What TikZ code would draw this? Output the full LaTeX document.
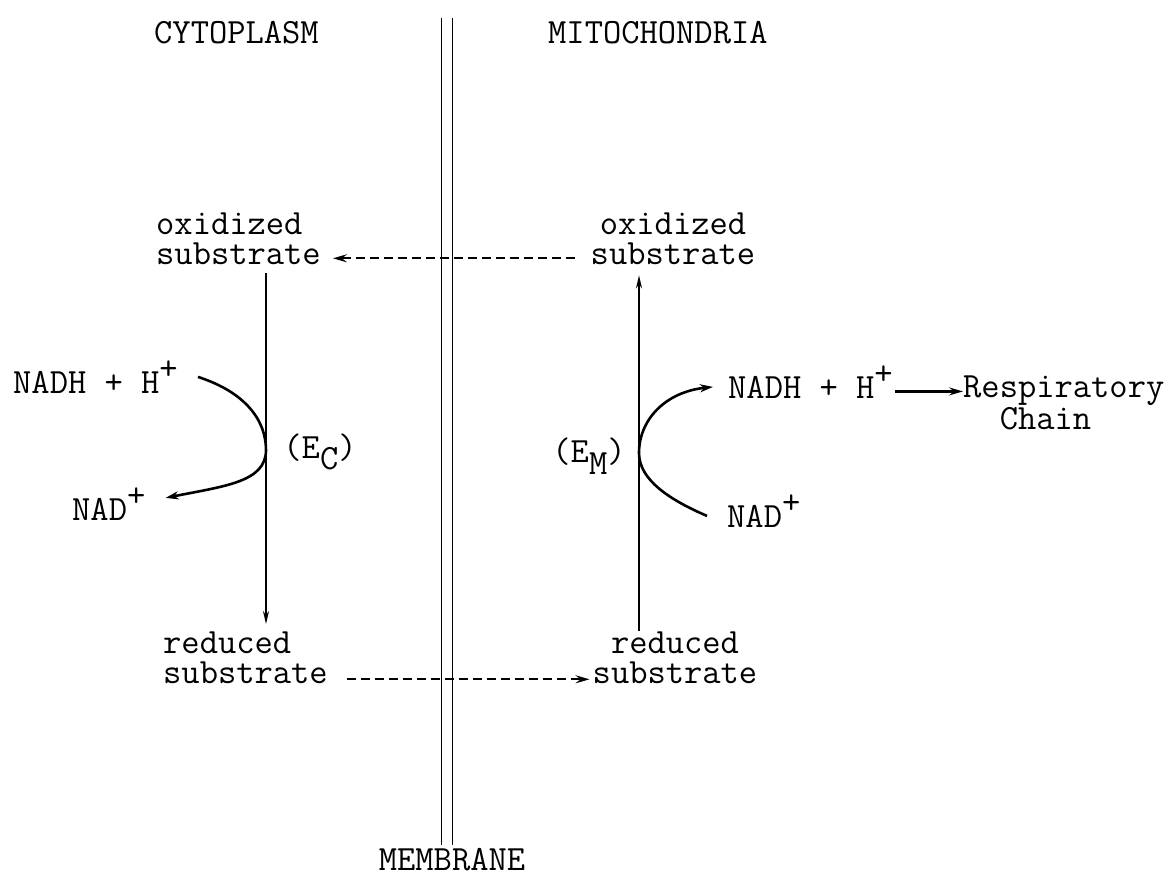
\documentclass[tikz,border=0pt]{standalone}
\usetikzlibrary{arrows.meta,calc}
\newcommand\upplus{\raisebox{0.38em}{+}}
\newcommand\lowsub[1]{\raisebox{-0.32em}{#1}}
\begin{document}
\begin{tikzpicture}[x=1pt,y=-1pt,
  txt/.style={inner sep=0pt,font=\ttfamily\fontsize{35.5}{30}\selectfont},
  memline/.style={line width=1.6pt},
  rxline/.style={line width=1.8pt},
  curvy/.style={line width=2.6pt,-{Stealth[length=13pt,width=8pt,inset=4pt]}},
  dashy/.style={line width=2.2pt,dash pattern=on 9pt off 5pt,-{Stealth[length=14pt,width=8pt,inset=5pt]}},
  solidarrow/.style={line width=2.2pt,-{Stealth[length=14pt,width=8pt,inset=5pt]}},
  thinarrow/.style={line width=1.8pt,-{Stealth[length=13pt,width=6pt,inset=4pt]}}]
\useasboundingbox (0,0) rectangle (1172,880);
% headings
\node[txt,anchor=base west] (cyto) at (154,44) {CYTOPLASM};
\node[txt,anchor=base west] (mito) at (548,44) {MITOCHONDRIA};
\node[txt,anchor=base] (memb) at (452,870) {MEMBRANE};
% membrane
\coordinate (m1t) at (441.5,18);
\coordinate (m1b) at (441.5,845);
\coordinate (m2t) at (452.5,18);
\coordinate (m2b) at (452.5,845);
\draw[memline] (m1t) -- (m1b);
\draw[memline] (m2t) -- (m2b);
% substrates
\node[txt,align=left,anchor=north west] (oxL) at (156,213) {oxidized\\substrate};
\node[txt,align=center,anchor=north] (oxR) at (673,213) {oxidized\\substrate};
\node[txt,align=left,anchor=north west] (redL) at (163,632) {reduced\\substrate};
\node[txt,align=center,anchor=north] (redR) at (675,632) {reduced\\substrate};
% cofactors
\node[txt,anchor=base west] (nadhL) at (13,393) {NADH + H\upplus};
\node[txt,anchor=base west] (nadL) at (72,520) {NAD\upplus};
\node[txt,anchor=base west] (nadhR) at (728,398) {NADH + H\upplus};
\node[txt,anchor=base west] (nadR) at (727,527) {NAD\upplus};
\node[txt,align=left,anchor=north west] (resp) at (963,376) {Respiratory\\\phantom{Re}Chain};
% enzymes
\node[txt] (ec) at (320,452) {(E\lowsub{C})};
\node[txt] (em) at (589,456) {(E\lowsub{M})};
% vertical reaction lines
\coordinate (xl) at (266,0);
\coordinate (xr) at (639,0);
\draw[thinarrow] ([yshift=-8pt]oxL.south -| xl) -- ([yshift=8pt]redL.north -| xl);
\draw[thinarrow] ([yshift=1pt]redR.north -| xr) -- ([yshift=-10pt]oxR.south -| xr);
% touch points
\coordinate (tL) at (266,450);
\coordinate (tR) at (639,453);
\draw[curvy] ([xshift=20pt]nadhL.east) .. controls (245,392) and (266,420) .. (tL)
   .. controls (266,482) and (225,486) .. ([xshift=20pt,yshift=6pt]nadL.east);
\draw[curvy] ([xshift=-20pt,yshift=-5pt]nadR.west) .. controls (670,500) and (639,480) .. (tR)
   .. controls (639,420) and (665,392) .. ([xshift=-15pt,yshift=-5pt]nadhR.west);
% respiratory chain arrow
\draw[solidarrow] ([xshift=2pt,yshift=-9.5pt]nadhR.east) -- ([yshift=-9.5pt]nadhR.east -| resp.west);
% transport (dashed)
\draw[dashy] ([xshift=-16pt,yshift=7pt]oxR.south west) -- ([xshift=12pt,yshift=7pt]oxL.south east);
\draw[dashy] ([xshift=19pt,yshift=5pt]redL.south east) -- ([xshift=-3pt,yshift=5pt]redR.south west);
\end{tikzpicture}
\end{document}
